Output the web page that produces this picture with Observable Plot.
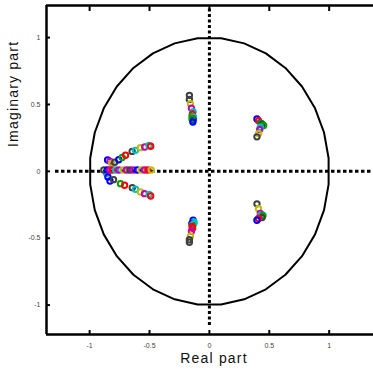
<!DOCTYPE html>
<html><head><meta charset="utf-8">
<script src="https://cdn.jsdelivr.net/npm/d3@7"></script>
<script src="https://cdn.jsdelivr.net/npm/@observablehq/plot@0.6"></script>
<style>
html,body{margin:0;padding:0;background:#fff;overflow:hidden;}
</style></head><body><div id="chart"></div>
<script>
// ---- axes ----
const xTicks = [-1, -0.5, 0, 0.5, 1];
const yTicks = [-1, -0.5, 0, 0.5, 1];
const xDomain = [-1.36, 1.37];
const yDomain = [-1.22, 1.24];
const xLabel = "Real part";
const yLabel = "Imaginary part";
// extent of the dotted real / imaginary axis lines
const realAxisExtent = [-1.285, 1.37];
const imagAxisExtent = [-1.153, 1.218];

// ---- colour codes (MATLAB-like colour order) ----
const colorCodes = ["b", "g", "r", "c", "m", "y", "k"];
const colorValues = ["#0000ff", "#00a000", "#ff0000", "#00bfbf", "#bf00bf", "#bfbf00", "#404040"];

// ---- roots (real part, imaginary part, colour) ----
// upper pole pair near -0.15 + 0.45i
const clusterAUpRe  = [-0.167, -0.167, -0.158, -0.150, -0.136, -0.142, -0.145, -0.132, -0.140, -0.136, -0.145, -0.138];
const clusterAUpIm  = [ 0.568,  0.538,  0.505,  0.472,  0.445,  0.427,  0.412,  0.405,  0.393,  0.383,  0.392,  0.368];
const clusterAUpCol = ["k", "k", "y", "m", "c", "r", "g", "c", "r", "b", "g", "b"];
// lower pole pair near -0.15 - 0.45i
const clusterALoRe  = [-0.136, -0.128, -0.146, -0.142, -0.130, -0.145, -0.140, -0.150, -0.158, -0.167, -0.167];
const clusterALoIm  = [-0.366, -0.378, -0.390, -0.400, -0.392, -0.412, -0.425, -0.448, -0.485, -0.512, -0.530];
const clusterALoCol = ["b", "c", "b", "g", "c", "r", "r", "m", "y", "k", "k"];
// pair near 0.42 + 0.33i
const clusterBUpRe  = [0.397, 0.410, 0.430, 0.440, 0.453, 0.425, 0.420, 0.410, 0.397];
const clusterBUpIm  = [0.392, 0.378, 0.360, 0.352, 0.343, 0.330, 0.312, 0.282, 0.258];
const clusterBUpCol = ["b", "r", "g", "k", "g", "c", "m", "y", "k"];
// pair near 0.42 - 0.33i
const clusterBLoRe  = [0.397, 0.410, 0.425, 0.430, 0.447, 0.440, 0.410, 0.397];
const clusterBLoIm  = [-0.243, -0.280, -0.315, -0.328, -0.330, -0.345, -0.353, -0.366];
const clusterBLoCol = ["k", "y", "m", "c", "g", "k", "r", "b"];
// upper branch of the left fan
const fanUpRe  = [-0.850, -0.830, -0.815, -0.790, -0.757, -0.728, -0.700, -0.645, -0.617, -0.575, -0.540, -0.505, -0.490];
const fanUpIm  = [ 0.085,  0.075,  0.060,  0.068,  0.087,  0.104,  0.120,  0.149,  0.157,  0.177,  0.182,  0.193,  0.188];
const fanUpCol = ["b", "m", "y", "k", "b", "g", "r", "k", "c", "y", "m", "c", "r"];
// lower branch of the left fan
const fanLoRe  = [-0.858, -0.847, -0.830, -0.800, -0.742, -0.708, -0.644, -0.617, -0.575, -0.542, -0.503, -0.490];
const fanLoIm  = [-0.017, -0.042, -0.072, -0.062, -0.092, -0.104, -0.122, -0.134, -0.154, -0.167, -0.172, -0.184];
const fanLoCol = ["c", "b", "b", "k", "g", "r", "k", "c", "y", "m", "c", "r"];
// roots on the negative real axis
const realRe  = [-0.881, -0.853, -0.830, -0.810, -0.783, -0.756, -0.720, -0.692, -0.664, -0.636, -0.603, -0.570, -0.542, -0.514, -0.486];
const realIm  = [0.010, 0.010, 0.010, 0.010, 0.010, 0.010, 0.010, 0.010, 0.010, 0.010, 0.010, 0.010, 0.010, 0.010, 0.010];
const realCol = ["k", "b", "m", "r", "c", "m", "y", "m", "k", "m", "b", "y", "m", "r", "y"];

const groups = [
  [clusterAUpRe, clusterAUpIm, clusterAUpCol],
  [clusterALoRe, clusterALoIm, clusterALoCol],
  [clusterBUpRe, clusterBUpIm, clusterBUpCol],
  [clusterBLoRe, clusterBLoIm, clusterBLoCol],
  [fanUpRe, fanUpIm, fanUpCol],
  [fanLoRe, fanLoIm, fanLoCol],
  [realRe, realIm, realCol]
];
const roots = groups.flatMap(([re, im, col]) => re.map((r, i) => ({re: r, im: im[i], col: col[i]})));

// unit circle reference (coarse polygon, as drawn in the original)
const circleStepDeg = 11.25, circleOffsetDeg = 5.625;
const unitCircle = d3.range(360 / circleStepDeg + 1).map(i => {
  const t = (circleOffsetDeg + i * circleStepDeg) * Math.PI / 180;
  return {x: Math.cos(t), y: Math.sin(t)};
});

const fmt = d => String(d);

const chart = Plot.plot({
  width: 373,
  height: 374,
  marginLeft: 46,
  marginRight: 0,
  marginTop: 5,
  marginBottom: 40,
  style: {fontFamily: "'Liberation Sans', Arial, sans-serif", background: "#fff"},
  x: {domain: xDomain},
  y: {domain: yDomain},
  color: {domain: colorCodes, range: colorValues},
  marks: [
    // dotted real and imaginary axes
    Plot.ruleY([0], {x1: realAxisExtent[0], x2: realAxisExtent[1], stroke: "#000", strokeWidth: 3, strokeDasharray: "3.5,2.5"}),
    Plot.ruleX([0], {y1: imagAxisExtent[0], y2: imagAxisExtent[1], stroke: "#000", strokeWidth: 3, strokeDasharray: "3,2.5"}),
    // unit circle
    Plot.line(unitCircle, {x: "x", y: "y", stroke: "#000", strokeWidth: 2}),
    // roots
    Plot.dot(roots, {x: "re", y: "im", stroke: "col", r: 2.7, strokeWidth: 2, fill: "none"}),
    // box (top, bottom, left)
    Plot.ruleY([yDomain[1]], {stroke: "#000", strokeWidth: 2.5}),
    Plot.ruleY([yDomain[0]], {stroke: "#000", strokeWidth: 2.5}),
    Plot.ruleX([xDomain[0]], {stroke: "#000", strokeWidth: 2.5}),
    // inward ticks
    Plot.axisX({ticks: xTicks, anchor: "bottom", tickSize: 4, dy: -4, strokeWidth: 2, fill: "none", label: null}),
    Plot.axisX({ticks: xTicks, anchor: "top", tickSize: 5, dy: 5, strokeWidth: 2, fill: "none", label: null}),
    Plot.axisY({ticks: yTicks, anchor: "left", tickSize: 4, dx: 4, strokeWidth: 2, fill: "none", label: null}),
    // tick labels
    Plot.axisX({ticks: xTicks, anchor: "bottom", tickSize: 0, tickPadding: 9, tickFormat: fmt, fontSize: 7, fill: "#444", label: null}),
    Plot.axisY({ticks: yTicks, anchor: "left", tickSize: 0, tickPadding: 6, tickFormat: fmt, fontSize: 7, fill: "#444", label: null}),
    // axis titles
    Plot.text([xLabel], {text: d => d, frameAnchor: "bottom", dx: 4, dy: 28, fontSize: 14, fill: "#111"}),
    Plot.text([yLabel], {text: d => d, frameAnchor: "left", rotate: -90, dx: -33, dy: -23, fontSize: 14, fill: "#111"})
  ]
});

d3.select(chart).selectAll("text")
  .filter(function() { return this.textContent === xLabel || this.textContent === yLabel; })
  .attr("letter-spacing", "1.2");

document.getElementById("chart").appendChild(chart);
</script>
</body></html>
